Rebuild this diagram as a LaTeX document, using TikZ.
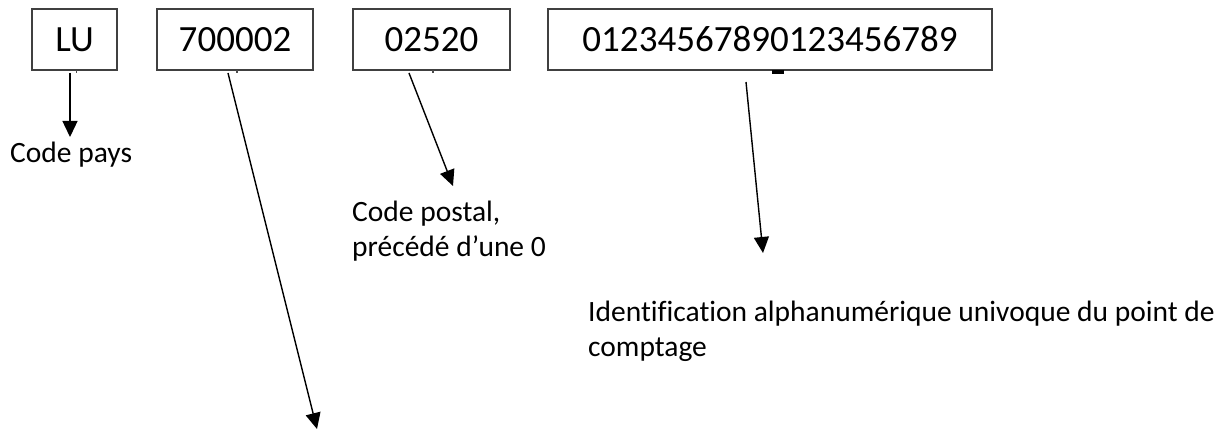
\documentclass[tikz,border=0pt]{standalone}
\usepackage{fontspec}
\setmainfont{Carlito}[Ligatures=NoCommon]
\usetikzlibrary{arrows.meta}
\begin{document}
\begin{tikzpicture}[x=1pt,y=-1pt,
  codebox/.style={draw=black!75,line width=1.3pt,rectangle,inner sep=0pt,
    minimum height=61pt,font=\fontsize{37}{40}\selectfont},
  lbl/.style={inner sep=0pt,anchor=base west,align=left,
    font=\fontsize{29.5}{35}\selectfont},
  arr/.style={line width=1.4pt,-{Triangle[length=16pt,width=15pt]}},
  speck/.style={fill=black!70,draw=none}]
\useasboundingbox (0,0) rectangle (1223,430);
% boxes
\node[codebox,minimum width=85pt]  (lu)  at (74.5,39.5) {LU};
\node[codebox,minimum width=156pt] (num) at (235,39.5) {700002};
\node[codebox,minimum width=157pt] (cp)  at (431.5,39.5) {02520};
\node[codebox,minimum width=444pt] (id)  at (770,39.5) {01234567890123456789};
% small stray marks under the boxes
\fill[speck] (75.5,70.5) rectangle (77,73);
\fill[speck] (236,70.5) rectangle (238,73);
\fill[speck] (432,70.5) rectangle (434,73);
\fill[black] (772,70.5) rectangle (784,74.5);
% labels (base anchor = baseline of the last line)
\node[lbl] (lpays) at (10,163) {Code pays};
\node[lbl] (lpost) at (352,257) {Code postal,\\précédé d’une 0};
\node[lbl] (lid)   at (588,356) {Identification alphanumérique univoque du point de\\comptage};
% arrow coordinates
\coordinate (s1) at (70,73);   \coordinate (e1) at (70,137);
\coordinate (s2) at (228,73);  \coordinate (e2) at (317,429);
\coordinate (s3) at (409,73);  \coordinate (e3) at (453,186);
\coordinate (s4) at (746,82);  \coordinate (e4) at (763,253);
\draw[arr] (s1) -- (e1);
\draw[arr] (s2) -- (e2);
\draw[arr] (s3) -- (e3);
\draw[arr] (s4) -- (e4);
\end{tikzpicture}
\end{document}
